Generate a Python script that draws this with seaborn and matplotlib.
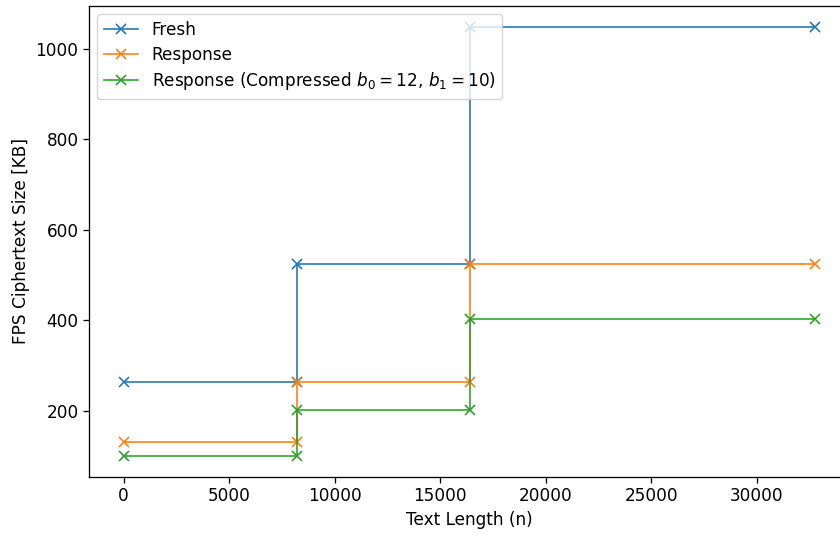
import pandas as pd
import seaborn as sns
import matplotlib.pyplot as plt

# Step-shaped data (each corner is a point)
text_length = [0, 8192, 8192, 16384, 16384, 32768]
fresh = [262.144, 262.144, 524.288, 524.288, 1048.576, 1048.576]
response = [131.072, 131.072, 262.144, 262.144, 524.288, 524.288]
compressed = [100.4, 100.4, 200.7, 200.7, 401.4, 401.4]

labels = ["Fresh", "Response", r"Response (Compressed $b_0 = 12$, $b_1 = 10$)"]
series = [fresh, response, compressed]
colors = sns.color_palette("tab10", 3)

plt.rcParams['font.size'] = 12.2

fig = plt.figure(figsize=(8.4, 5.35), dpi=100)
ax = fig.add_axes([89 / 840, 1 - 477 / 535, 761 / 840, 471.5 / 535])

for lab, vals, c in zip(labels, series, colors):
    df = pd.DataFrame({"n": text_length, "size": vals})
    sns.lineplot(data=df, x="n", y="size", ax=ax, label=lab, sort=False,
                 estimator=None, color=c, marker="x", markersize=7.5,
                 markeredgewidth=1.16, markeredgecolor=c, linewidth=1.16)

for s in ax.spines.values():
    s.set_linewidth(0.93)
ax.tick_params(width=0.93, length=4)
ax.set_xlabel("Text Length (n)")
ax.set_ylabel("FPS Ciphertext Size [KB]")
ax.legend(loc="upper left", labelspacing=0.4)

fig.savefig("out.png", dpi=100)
